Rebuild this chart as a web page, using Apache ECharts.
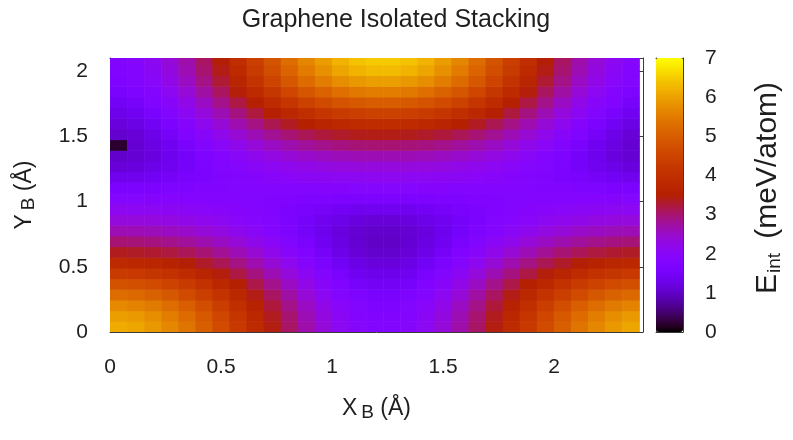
<!DOCTYPE html>
<html><head><meta charset="utf-8">
<script src="https://cdn.jsdelivr.net/npm/echarts@6/dist/echarts.min.js"></script>
<style>html,body{margin:0;padding:0;background:#fff}#c{width:793px;height:440px}</style>
</head><body><div id="c"></div>
<script>
// Cell centres (Å)
const xCenters = [0.0384,0.1153,0.1922,0.2691,0.3459,0.4228,0.4997,0.5766,0.6534,0.7303,0.8072,0.8841,0.9609,1.0378,1.1147,1.1916,1.2684,1.3453,1.4222,1.4991,1.5759,1.6528,1.7297,1.8066,1.8834,1.9603,2.0372,2.1141,2.1909,2.2678,2.3447];
const yCenters = [0.041,0.123,0.205,0.287,0.369,0.451,0.532,0.614,0.696,0.778,0.860,0.942,1.024,1.106,1.188,1.270,1.352,1.434,1.516,1.597,1.679,1.761,1.843,1.925,2.007,2.089];
const xTicks = [0,0.5,1,1.5,2];
const yTicks = [0,0.5,1,1.5,2];
const cbTicks = [0,1,2,3,4,5,6,7];
// E_int (meV/atom), one row per yCenters entry, one value per xCenters entry
const energyRows = [
[6.13,6.05,5.89,5.66,5.38,5.03,4.65,4.25,3.84,3.43,3.05,2.68,2.36,2.10,1.93,1.84,1.84,1.93,2.10,2.36,2.68,3.05,3.43,3.84,4.25,4.65,5.03,5.38,5.66,5.89,6.05],
[5.97,5.90,5.75,5.52,5.24,4.92,4.55,4.16,3.76,3.37,3.00,2.63,2.31,2.06,1.89,1.80,1.80,1.89,2.06,2.31,2.63,3.00,3.37,3.76,4.16,4.55,4.92,5.24,5.52,5.75,5.90],
[5.67,5.60,5.47,5.26,5.01,4.70,4.36,3.99,3.61,3.24,2.88,2.53,2.23,1.99,1.82,1.71,1.71,1.82,1.99,2.23,2.53,2.88,3.24,3.61,3.99,4.36,4.70,5.01,5.26,5.47,5.60],
[5.27,5.21,5.08,4.90,4.67,4.40,4.09,3.76,3.41,3.07,2.72,2.39,2.11,1.89,1.70,1.58,1.58,1.70,1.89,2.11,2.39,2.72,3.07,3.41,3.76,4.09,4.40,4.67,4.90,5.08,5.21],
[4.79,4.74,4.64,4.49,4.29,4.04,3.77,3.49,3.18,2.86,2.53,2.23,1.97,1.76,1.54,1.44,1.44,1.54,1.76,1.97,2.23,2.53,2.86,3.18,3.49,3.77,4.04,4.29,4.49,4.64,4.74],
[4.30,4.25,4.17,4.04,3.87,3.68,3.45,3.20,2.92,2.63,2.34,2.07,1.83,1.58,1.38,1.29,1.29,1.38,1.58,1.83,2.07,2.34,2.63,2.92,3.20,3.45,3.68,3.87,4.04,4.17,4.25],
[3.81,3.77,3.71,3.60,3.48,3.32,3.13,2.90,2.65,2.40,2.14,1.91,1.66,1.41,1.24,1.15,1.15,1.24,1.41,1.66,1.91,2.14,2.40,2.65,2.90,3.13,3.32,3.48,3.60,3.71,3.77],
[3.37,3.34,3.29,3.22,3.11,2.98,2.81,2.62,2.41,2.19,1.97,1.76,1.50,1.28,1.13,1.05,1.05,1.13,1.28,1.50,1.76,1.97,2.19,2.41,2.62,2.81,2.98,3.11,3.22,3.29,3.34],
[2.98,2.96,2.92,2.86,2.77,2.66,2.52,2.37,2.20,2.02,1.84,1.60,1.38,1.21,1.08,1.00,1.00,1.08,1.21,1.38,1.60,1.84,2.02,2.20,2.37,2.52,2.66,2.77,2.86,2.92,2.96],
[2.63,2.62,2.59,2.54,2.48,2.39,2.29,2.17,2.03,1.89,1.71,1.51,1.34,1.19,1.09,1.03,1.03,1.09,1.19,1.34,1.51,1.71,1.89,2.03,2.17,2.29,2.39,2.48,2.54,2.59,2.62],
[2.35,2.34,2.32,2.29,2.24,2.18,2.10,2.01,1.92,1.81,1.66,1.51,1.37,1.26,1.18,1.13,1.13,1.18,1.26,1.37,1.51,1.66,1.81,1.92,2.01,2.10,2.18,2.24,2.29,2.32,2.34],
[2.12,2.11,2.10,2.08,2.05,2.01,1.96,1.91,1.85,1.77,1.67,1.58,1.50,1.42,1.37,1.35,1.35,1.37,1.42,1.50,1.58,1.67,1.77,1.85,1.91,1.96,2.01,2.05,2.08,2.10,2.11],
[1.92,1.92,1.91,1.91,1.90,1.88,1.87,1.85,1.82,1.80,1.77,1.73,1.70,1.68,1.66,1.66,1.66,1.66,1.68,1.70,1.73,1.77,1.80,1.82,1.85,1.87,1.88,1.90,1.91,1.91,1.92],
[1.66,1.66,1.68,1.70,1.73,1.77,1.80,1.82,1.85,1.87,1.88,1.90,1.91,1.91,1.92,1.92,1.92,1.92,1.91,1.91,1.90,1.88,1.87,1.85,1.82,1.80,1.77,1.73,1.70,1.68,1.66],
[1.35,1.37,1.42,1.50,1.58,1.67,1.77,1.85,1.91,1.96,2.01,2.05,2.08,2.10,2.11,2.12,2.12,2.11,2.10,2.08,2.05,2.01,1.96,1.91,1.85,1.77,1.67,1.58,1.50,1.42,1.37],
[1.13,1.18,1.26,1.37,1.51,1.66,1.81,1.92,2.01,2.10,2.18,2.24,2.29,2.32,2.34,2.35,2.35,2.34,2.32,2.29,2.24,2.18,2.10,2.01,1.92,1.81,1.66,1.51,1.37,1.26,1.18],
[1.03,1.09,1.19,1.34,1.51,1.71,1.89,2.03,2.17,2.29,2.39,2.48,2.54,2.59,2.62,2.63,2.63,2.62,2.59,2.54,2.48,2.39,2.29,2.17,2.03,1.89,1.71,1.51,1.34,1.19,1.09],
[0.20,1.08,1.21,1.38,1.60,1.84,2.02,2.20,2.37,2.52,2.66,2.77,2.86,2.92,2.96,2.98,2.98,2.96,2.92,2.86,2.77,2.66,2.52,2.37,2.20,2.02,1.84,1.60,1.38,1.21,1.08],
[1.05,1.13,1.28,1.50,1.76,1.97,2.19,2.41,2.62,2.81,2.98,3.12,3.24,3.32,3.38,3.41,3.41,3.38,3.32,3.24,3.12,2.98,2.81,2.62,2.41,2.19,1.97,1.76,1.50,1.28,1.13],
[1.15,1.24,1.41,1.66,1.91,2.14,2.40,2.65,2.90,3.14,3.35,3.53,3.67,3.79,3.86,3.90,3.90,3.86,3.79,3.67,3.53,3.35,3.14,2.90,2.65,2.40,2.14,1.91,1.66,1.41,1.24],
[1.29,1.38,1.58,1.83,2.07,2.34,2.63,2.92,3.22,3.50,3.75,3.97,4.16,4.30,4.39,4.44,4.44,4.39,4.30,4.16,3.97,3.75,3.50,3.22,2.92,2.63,2.34,2.07,1.83,1.58,1.38],
[1.44,1.54,1.76,1.97,2.23,2.53,2.86,3.20,3.54,3.86,4.16,4.43,4.65,4.82,4.93,4.99,4.99,4.93,4.82,4.65,4.43,4.16,3.86,3.54,3.20,2.86,2.53,2.23,1.97,1.76,1.54],
[1.58,1.70,1.89,2.11,2.39,2.72,3.08,3.46,3.84,4.21,4.55,4.86,5.11,5.31,5.45,5.52,5.52,5.45,5.31,5.11,4.86,4.55,4.21,3.84,3.46,3.08,2.72,2.39,2.11,1.89,1.70],
[1.71,1.82,1.99,2.23,2.53,2.88,3.27,3.68,4.10,4.51,4.89,5.23,5.51,5.74,5.89,5.97,5.97,5.89,5.74,5.51,5.23,4.89,4.51,4.10,3.68,3.27,2.88,2.53,2.23,1.99,1.82],
[1.80,1.89,2.06,2.31,2.63,3.00,3.41,3.84,4.29,4.72,5.13,5.49,5.80,6.05,6.22,6.30,6.30,6.22,6.05,5.80,5.49,5.13,4.72,4.29,3.84,3.41,3.00,2.63,2.31,2.06,1.89],
[1.84,1.93,2.10,2.36,2.68,3.06,3.48,3.93,4.39,4.83,5.26,5.64,5.96,6.21,6.39,6.48,6.48,6.39,6.21,5.96,5.64,5.26,4.83,4.39,3.93,3.48,3.06,2.68,2.36,2.10,1.93]
];

const FONT = '"Liberation Sans", Arial, Helvetica, sans-serif';
const TXT = '#1e1e1e';

// gnuplot default pm3d palette (rgbformulae 7,5,15)
function gp(t){
  const r = Math.sqrt(t), g = t*t*t, b = Math.max(0, Math.sin(2*Math.PI*t));
  return 'rgb(' + Math.round(r*255) + ',' + Math.round(g*255) + ',' + Math.round(b*255) + ')';
}
const palette = [];
for (let k = 0; k <= 64; k++) palette.push(gp(k/64));

const cells = [];
energyRows.forEach((row, j) => row.forEach((e, i) => cells.push([xCenters[i], yCenters[j], e])));
const dx = xCenters[1] - xCenters[0];
const dy = yCenters[1] - yCenters[0];

const chart = echarts.init(document.getElementById('c'), null, {renderer: 'canvas'});
const axisLine = {show: true, onZero: false, lineStyle: {color: '#3a3a3a', width: 1}};
const tick = {show: true, inside: true, length: 6, lineStyle: {color: '#3a3a3a'}};
const labelOf = (list) => (v) => list.some(t => Math.abs(t - v) < 1e-6) ? String(v) : '';

const GL = 110, GT = 58, GW = 533, GH = 274;
const nameRich = {m: {fontSize: 23, color: TXT, fontFamily: FONT, lineHeight: 26},
                  s: {fontSize: 19, color: TXT, fontFamily: FONT, verticalAlign: 'bottom', lineHeight: 11, padding: [0, 3, 0, 4]}};

chart.setOption({
  animation: false,
  backgroundColor: '#ffffff',
  grid: [
    {left: GL, top: GT, width: GW, height: GH, show: false},
    {left: 656, top: GT, width: 27, height: GH, show: false}
  ],
  xAxis: [
    {gridIndex: 0, type: 'value', min: 0, max: 2.4, interval: 0.5, position: 'bottom',
     axisLine: axisLine, axisTick: tick, splitLine: {show: false},
     axisLabel: {margin: 25, fontSize: 21, color: TXT, fontFamily: FONT, formatter: labelOf(xTicks)},
     name: '{m|X}{s|B} {m|(Å)}', nameLocation: 'middle', nameGap: 64, nameTextStyle: {rich: nameRich}},
    {gridIndex: 0, type: 'value', min: 0, max: 2.4, interval: 0.5, position: 'top',
     axisLine: axisLine, axisTick: tick, splitLine: {show: false}, axisLabel: {show: false}},
    {gridIndex: 1, type: 'value', min: 0, max: 1, position: 'bottom',
     axisLine: axisLine, axisTick: {show: false}, axisLabel: {show: false}, splitLine: {show: false}},
    {gridIndex: 1, type: 'value', min: 0, max: 1, position: 'top',
     axisLine: axisLine, axisTick: {show: false}, axisLabel: {show: false}, splitLine: {show: false}}
  ],
  yAxis: [
    {gridIndex: 0, type: 'value', min: 0, max: 2.1, interval: 0.5, position: 'left',
     axisLine: axisLine, axisTick: tick, splitLine: {show: false},
     axisLabel: {margin: 22, fontSize: 21, color: TXT, fontFamily: FONT, formatter: labelOf(yTicks)},
     name: '{m|Y}{s|B} {m|(Å)}', nameLocation: 'middle', nameGap: 72, nameRotate: 90, nameTextStyle: {rich: nameRich}},
    {gridIndex: 0, type: 'value', min: 0, max: 2.1, interval: 0.5, position: 'right',
     axisLine: axisLine, axisTick: tick, splitLine: {show: false}, axisLabel: {show: false}},
    {gridIndex: 1, type: 'value', min: 0, max: 7, interval: 1, position: 'right',
     axisLine: axisLine, axisTick: {show: true, inside: true, length: 4, lineStyle: {color: '#3a3a3a'}},
     splitLine: {show: false},
     axisLabel: {margin: 22, fontSize: 21, color: TXT, fontFamily: FONT, formatter: labelOf(cbTicks)}},
    {gridIndex: 1, type: 'value', min: 0, max: 7, interval: 1, position: 'left',
     axisLine: axisLine, axisTick: {show: true, inside: true, length: 4, lineStyle: {color: '#3a3a3a'}},
     splitLine: {show: false}, axisLabel: {show: false}}
  ],
  visualMap: {
    type: 'continuous', min: 0, max: 7, dimension: 2, seriesIndex: 0,
    orient: 'vertical', left: 656, top: GT, itemWidth: 27, itemHeight: GH,
    padding: 0, calculable: false, realtime: false, hoverLink: false,
    inRange: {color: palette}, textStyle: {color: 'rgba(0,0,0,0)'}
  },
  graphic: [
    {type: 'text', x: 396, y: 20, style: {text: 'Graphene Isolated Stacking', fontSize: 25, fontFamily: FONT,
      fill: TXT, align: 'center', verticalAlign: 'middle'}},
    {type: 'text', x: 768, y: 188, rotation: Math.PI/2,
     style: {text: '{m|E}{s|int}{m| (meV/atom)}', align: 'center', verticalAlign: 'middle',
       rich: {m: {fontSize: 30, fill: TXT, fontFamily: FONT, lineHeight: 33},
              s: {fontSize: 19, fill: TXT, fontFamily: FONT, verticalAlign: 'bottom', lineHeight: 12, padding: [0, 6, 0, 1]}}}}
  ],
  series: [{
    type: 'custom', coordinateSystem: 'cartesian2d', xAxisIndex: 0, yAxisIndex: 0, clip: true,
    encode: {x: 0, y: 1},
    data: cells,
    renderItem: function (params, api) {
      const x = api.value(0), y = api.value(1);
      const p0 = api.coord([x - dx/2, y + dy/2]);
      const p1 = api.coord([x + dx/2, y - dy/2]);
      return {type: 'rect', shape: {x: p0[0], y: p0[1], width: p1[0] - p0[0] + 0.6, height: p1[1] - p0[1] + 0.6},
              style: {fill: api.visual('color')}};
    }
  }]
});
</script></body></html>
